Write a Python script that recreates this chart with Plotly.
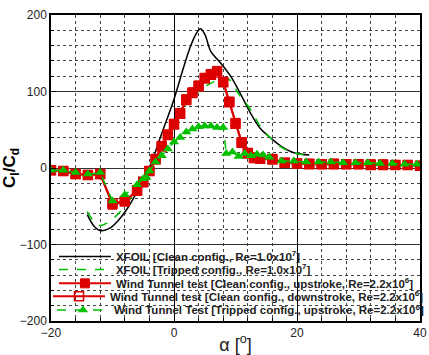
import plotly.graph_objects as go

# XFOIL clean
xf_clean_a = [-14.1, -13.0, -11.9, -10.5, -9.0, -7.5, -6.2, -5.0, -4.0, -2.0, 0.0, 1.5, 2.5, 3.5, 4.3, 5.0, 6.0, 7.5, 9.2, 11.0, 12.7, 14.0, 15.6, 17.5, 19.5, 22.0]
xf_clean_v = [-61, -76, -82, -79, -68, -52, -34, -17, 0, 45, 90, 130, 155, 174, 182, 175, 152, 138, 120, 94, 68, 52, 40, 28, 20, 17]

# XFOIL tripped
xf_trip_a = [-14.1, -13.0, -12.0, -10.5, -8.3, -6.5, -5.0, -3.0, -1.0, 1.3, 3.0, 4.8, 6.5, 7.7, 8.9, 10.5, 12.4, 14.0, 15.6, 17.5, 19.5, 22.0]
xf_trip_v = [-57, -70, -75, -70, -53, -33, -15, 12, 42, 77, 93, 105, 113, 117, 116, 97, 77, 55, 40, 27, 20, 16]

# Wind tunnel, clean, upstroke
wt_up_a = [-20.0, -18.0, -16.0, -14.0, -12.0, -10.0, -8.0, -6.0, -5.0, -4.0, -3.0, -2.0, -1.0, 0.0, 1.0, 2.0, 3.0, 4.0, 5.0, 6.0, 7.0, 8.0, 9.0, 10.0, 11.0, 12.0, 13.0, 14.0, 16.0, 18.0, 20.0, 22.0, 24.0, 26.0, 28.0, 30.0, 32.0, 34.0, 36.0, 38.0, 40.0]
wt_up_v = [-3, -4, -8, -9, -8, -48, -44, -30, -19, -4, 12, 29, 44, 58, 72, 90, 99, 108, 118, 123, 127, 113, 87, 59, 34, 20, 14, 12, 12, 7, 6, 6, 5, 6, 5, 5, 5, 5, 4, 4, 3]

# Wind tunnel, clean, downstroke
wt_dn_a = [-20.0, -18.0, -16.0, -14.0, -12.0, -10.0, -8.0, -6.0, -5.0, -4.0, -3.0, -2.0, -1.0, 0.0, 1.0, 2.0, 3.0, 4.0, 5.0, 6.0, 7.0, 8.0, 9.0, 10.0, 11.0, 12.0, 13.0, 14.0, 16.0, 18.0, 20.0, 22.0, 24.0, 26.0, 28.0, 30.0, 32.0, 34.0, 36.0, 38.0, 40.0]
wt_dn_v = [-3, -4, -8, -9, -8, -46, -43, -29, -18, -4, 11, 28, 43, 57, 71, 89, 98, 107, 117, 122, 125, 112, 86, 58, 33, 19, 13, 12, 11, 7, 6, 5, 5, 5, 5, 5, 4, 4, 4, 4, 3]

# Wind tunnel, tripped, upstroke
wt_tr_a = [-20.0, -18.0, -16.0, -14.0, -12.0, -10.0, -8.0, -6.0, -5.0, -4.5, -4.0, -3.0, -2.0, -1.0, 0.0, 1.0, 2.0, 3.0, 4.0, 5.0, 6.0, 7.0, 8.0, 8.5, 9.5, 10.5, 11.5, 12.5, 13.5, 14.5, 15.5, 17.5, 19.5, 21.5, 23.5, 25.5, 27.5, 29.5, 31.5, 33.5, 35.5, 37.5, 39.5]
wt_tr_v = [-3, -3, -6, -8, -6, -43, -35, -22, -14, -12, -4, 8, 16, 25, 34, 40, 47, 51, 54, 55, 55, 53, 53, 19, 21, 15, 19, 16, 18, 17, 14, 9, 9, 8, 8, 8, 7, 7, 7, 6, 6, 5, 5]

legend_names = [
    "XFOIL [Clean config., Re=1.0x10<sup>7</sup>]",
    "XFOIL [Tripped config., Re=1.0x10<sup>7</sup>]",
    "Wind Tunnel test [Clean config., upstroke, Re=2.2x10<sup>6</sup>]",
    "Wind Tunnel test [Clean config., downstroke, Re=2.2x10<sup>6</sup>]",
    "Wind Tunnel Test [Tripped config., upstroke, Re=2.2x10<sup>6</sup>]",
]

RED = "#dd0000"
GREEN = "#00c000"

fig = go.Figure()
fig.add_trace(go.Scatter(x=xf_clean_a, y=xf_clean_v, mode="lines", line=dict(color="black", width=1.5, shape="spline"),
                         name=legend_names[0], legend="legend"))
fig.add_trace(go.Scatter(x=xf_trip_a, y=xf_trip_v, mode="lines", line=dict(color=GREEN, width=1.5, dash="dash", shape="spline"),
                         name=legend_names[1], legend="legend2"))
fig.add_trace(go.Scatter(x=wt_up_a, y=wt_up_v, mode="lines+markers", line=dict(color=RED, width=2),
                         marker=dict(symbol="square", size=9, color=RED, line=dict(color=RED, width=1)),
                         name=legend_names[2], legend="legend3"))
fig.add_trace(go.Scatter(x=wt_dn_a, y=wt_dn_v, mode="lines+markers", line=dict(color=RED, width=2),
                         marker=dict(symbol="square-open", size=9, color=RED, line=dict(width=1.5)),
                         name=legend_names[3], legend="legend4"))
fig.add_trace(go.Scatter(x=wt_tr_a, y=wt_tr_v, mode="lines+markers", line=dict(color=GREEN, width=1.5, dash="dash"),
                         marker=dict(symbol="triangle-up", size=9, color=GREEN),
                         name=legend_names[4], legend="legend5"))

axis_common = dict(
    showline=True, linecolor="black", linewidth=1.5, mirror=True,
    showgrid=True, gridwidth=1,
    zeroline=False, ticks="inside", ticklen=5, tickcolor="black",
    tickfont=dict(family="Arial", size=12, color="#222"),
    ticklabeloverflow="allow",
)

fig.update_xaxes(range=[-20, 40], dtick=20, tick0=0, gridcolor="black",
                 minor=dict(dtick=4, showgrid=True, gridcolor="#444", griddash="dot", gridwidth=1.2, ticks="inside", ticklen=3),
                 title=dict(text="α [<sup>o</sup>]", font=dict(family="Arial", size=18, color="#222"), standoff=0),
                 **axis_common)
fig.update_yaxes(range=[-200, 200], dtick=100, gridcolor="#333",
                 minor=dict(dtick=20, showgrid=True, gridcolor="#444", griddash="dot", gridwidth=1.2, ticks="inside", ticklen=3),
                 title=dict(text="<b>C<sub>l</sub>/C<sub>d</sub></b>", font=dict(family="Arial", size=17, color="black"), standoff=6),
                 **axis_common)

legend_y = [0.211, 0.168, 0.123, 0.081, 0.036]
legend_style = dict(x=0.008, xanchor="left", yanchor="middle",
                    bgcolor="rgba(0,0,0,0)", borderwidth=0,
                    font=dict(family="Arial", size=11.5, color="#222", weight="bold"),
                    itemwidth=52, tracegroupgap=0)

fig.update_layout(
    width=429, height=355,
    margin=dict(l=51, r=2, t=15, b=32),
    plot_bgcolor="white", paper_bgcolor="white",
    showlegend=True,
    legend=dict(y=legend_y[0], **legend_style),
    legend2=dict(y=legend_y[1], **legend_style),
    legend3=dict(y=legend_y[2], **legend_style),
    legend4=dict(y=legend_y[3], **legend_style),
    legend5=dict(y=legend_y[4], **legend_style),
)

fig.write_html("out.html")
